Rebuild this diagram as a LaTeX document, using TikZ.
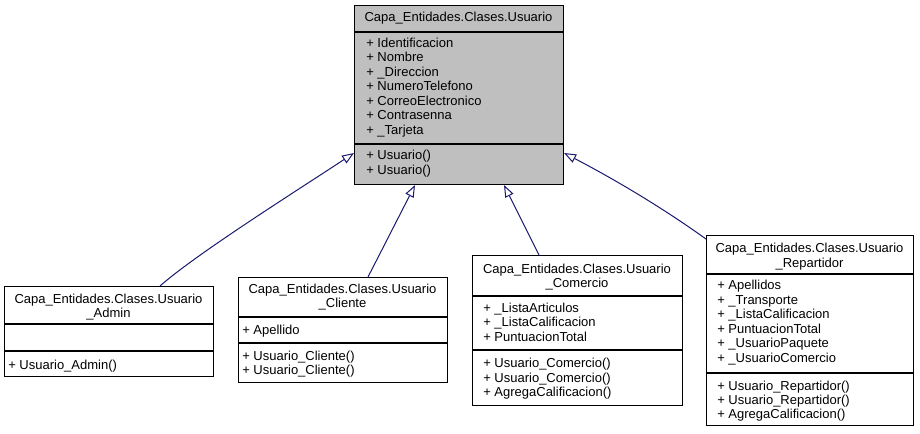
\documentclass[tikz,border=0pt]{standalone}
\usepackage{fontspec}
\setmainfont{Liberation Sans}
\usetikzlibrary{arrows.meta,calc}
\definecolor{boxgray}{HTML}{BFBFBF}
\definecolor{edgeblue}{HTML}{191970}
\begin{document}
\begin{tikzpicture}[x=0.75pt,y=-0.75pt,
  cls/.style={draw=black, line width=0.8pt, inner sep=0pt, anchor=north west},
  txt/.style={anchor=base west, inner sep=0pt, font=\fontsize{9.75pt}{11pt}\selectfont},
  ttl/.style={anchor=base, inner sep=0pt, font=\fontsize{9.75pt}{11pt}\selectfont},
  divline/.style={draw=black, line width=0.8pt},
  inh/.style={draw=edgeblue, line width=0.75pt, -{Triangle[open, length=9pt, width=6.75pt, fill=white]}}]
\useasboundingbox (0,0) rectangle (920,433);
\fill[white] (0,0) rectangle (920,433);

% ---- Usuario
\node[cls, fill=boxgray, minimum width=156.75pt, minimum height=134.25pt] (usuario) at (354,5) {};
\draw[divline] ([yshift=-20.25pt]usuario.north west) -- ([yshift=-20.25pt]usuario.north east);
\draw[divline] ([yshift=-104.25pt]usuario.north west) -- ([yshift=-104.25pt]usuario.north east);
\node[ttl] (ut) at (458.5,21.5) {Capa\_Entidades.Clases.Usuario};
\foreach \t [count=\i] in {+ Identificacion,+ Nombre,+ \_Direccion,+ NumeroTelefono,+ CorreoElectronico,+ Contrasenna,+ \_Tarjeta}
  \node[txt] (ua\i) at (366,{47+14.5*(\i-1)}) {\t};
\foreach \t [count=\i] in {+ Usuario(),+ Usuario()}
  \node[txt] (um\i) at (366,{159.5+14.5*(\i-1)}) {\t};

% ---- Admin
\node[cls, minimum width=156.75pt, minimum height=67.5pt] (admin) at (4,286) {};
\draw[divline] ([yshift=-28.5pt]admin.north west) -- ([yshift=-28.5pt]admin.north east);
\draw[divline] ([yshift=-48.75pt]admin.north west) -- ([yshift=-48.75pt]admin.north east);
\node[ttl] (at1) at (108.5,303.5) {Capa\_Entidades.Clases.Usuario};
\node[ttl] (at2) at (108.5,317.5) {\_Admin};
\node[txt] (am1) at (8,369.5) {+ Usuario\_Admin()};

% ---- Cliente
\node[cls, minimum width=156.75pt, minimum height=78.75pt] (cliente) at (238,277) {};
\draw[divline] ([yshift=-30pt]cliente.north west) -- ([yshift=-30pt]cliente.north east);
\draw[divline] ([yshift=-49.5pt]cliente.north west) -- ([yshift=-49.5pt]cliente.north east);
\node[ttl] (ct1) at (342.5,293.5) {Capa\_Entidades.Clases.Usuario};
\node[ttl] (ct2) at (342.5,307.5) {\_Cliente};
\node[txt] (ca1) at (242,334.5) {+ Apellido};
\foreach \t [count=\i] in {+ Usuario\_Cliente(),+ Usuario\_Cliente()}
  \node[txt] (cm\i) at (242,{360+14*(\i-1)}) {\t};

% ---- Comercio
\node[cls, minimum width=157.5pt, minimum height=112.5pt] (comercio) at (472,255) {};
\draw[divline] ([yshift=-30.75pt]comercio.north west) -- ([yshift=-30.75pt]comercio.north east);
\draw[divline] ([yshift=-71.25pt]comercio.north west) -- ([yshift=-71.25pt]comercio.north east);
\node[ttl] (mt1) at (577,273.5) {Capa\_Entidades.Clases.Usuario};
\node[ttl] (mt2) at (577,287.5) {\_Comercio};
\foreach \t [count=\i] in {+ \_ListaArticulos,+ \_ListaCalificacion,+ PuntuacionTotal}
  \node[txt] (ma\i) at (483,{312.5+14.25*(\i-1)}) {\t};
\foreach \t [count=\i] in {+ Usuario\_Comercio(),+ Usuario\_Comercio(),+ AgregaCalificacion()}
  \node[txt] (mm\i) at (483,{367.5+14.5*(\i-1)}) {\t};

% ---- Repartidor
\node[cls, minimum width=155.25pt, minimum height=142.5pt] (repartidor) at (706,235) {};
\draw[divline] ([yshift=-29.25pt]repartidor.north west) -- ([yshift=-29.25pt]repartidor.north east);
\draw[divline] ([yshift=-103.5pt]repartidor.north west) -- ([yshift=-103.5pt]repartidor.north east);
\node[ttl] (rt1) at (809.5,252.5) {Capa\_Entidades.Clases.Usuario};
\node[ttl] (rt2) at (809.5,267) {\_Repartidor};
\foreach \t [count=\i] in {+ Apellidos,+ \_Transporte,+ \_ListaCalificacion,+ PuntuacionTotal,+ \_UsuarioPaquete,+ \_UsuarioComercio}
  \node[txt] (ra\i) at (717,{289.5+14.5*(\i-1)}) {\t};
\foreach \t [count=\i] in {+ Usuario\_Repartidor(),+ Usuario\_Repartidor(),+ AgregaCalificacion()}
  \node[txt] (rm\i) at (717,{390.5+14*(\i-1)}) {\t};

% ---- Inheritance connectors
\draw[inh] ([xshift=117pt]admin.north west) .. controls (195,255) and (290,195) .. ([yshift=-111pt]usuario.north west);
\draw[inh] ([xshift=97.5pt]cliente.north west) -- ([xshift=45.75pt]usuario.south west);
\draw[inh] ([xshift=50.25pt]comercio.north west) -- ([xshift=112.5pt]usuario.south west);
\draw[inh] ([yshift=-3pt]repartidor.north west) .. controls (660,206) and (612,178) .. ([yshift=-111pt]usuario.north east);
\end{tikzpicture}
\end{document}
